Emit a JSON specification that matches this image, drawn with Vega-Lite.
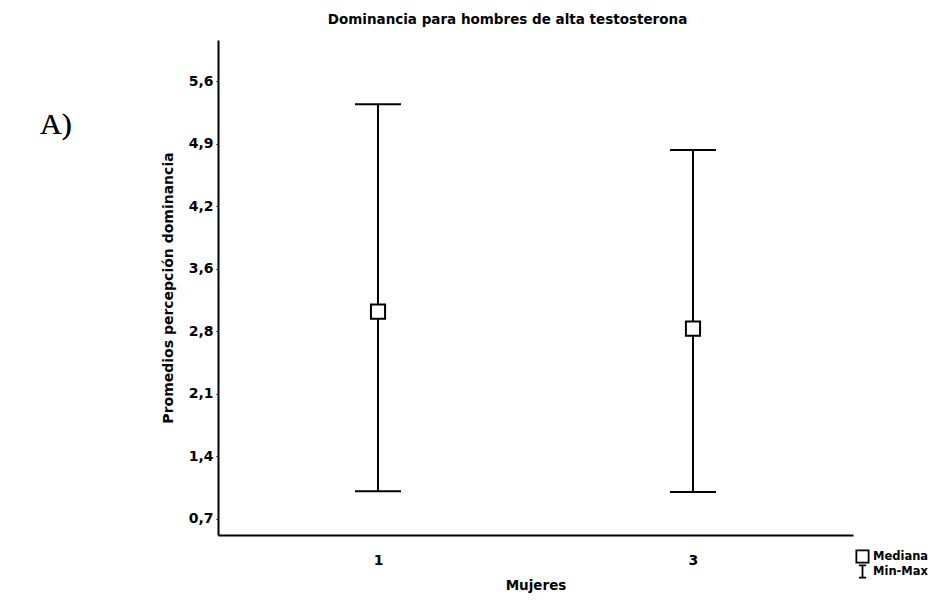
{
  "$schema": "https://vega.github.io/schema/vega-lite/v6.json",
  "autosize": {"type": "none"},
  "padding": {"left": 218, "top": 40, "right": 84, "bottom": 65},
  "width": 635,
  "height": 495,
  "background": "white",
  "title": {
    "text": "Dominancia para hombres de alta testosterona",
    "font": "DejaVu Sans",
    "fontSize": 13.5,
    "fontWeight": "bold",
    "color": "black",
    "anchor": "middle",
    "offset": 14,
    "dx": -28
  },
  "config": {
    "view": {"stroke": null},
    "axis": {"grid": false, "domainColor": "black", "domainWidth": 2, "tickColor": "black", "labelColor": "black", "titleColor": "black"}
  },
  "data": {
    "values": [
      {"mujeres": 1, "min": 1.01, "max": 5.34, "mediana": 3.02, "tipo": "Mediana"},
      {"mujeres": 3, "min": 1.0, "max": 4.83, "mediana": 2.83, "tipo": "Mediana"}
    ]
  },
  "encoding": {
    "x": {
      "field": "mujeres",
      "type": "quantitative",
      "scale": {"domain": [-0.016, 4.016], "nice": false, "zero": false},
      "axis": {
        "values": [1, 3],
        "title": "Mujeres",
        "titleFont": "DejaVu Sans",
        "titleFontSize": 13.5,
        "titleFontWeight": "bold",
        "titlePadding": 11,
        "labelFont": "DejaVu Sans",
        "labelFontSize": 14,
        "labelFontWeight": "bold",
        "labelPadding": 18,
        "ticks": false
      }
    }
  },
  "layer": [
    {
      "mark": {"type": "rule", "color": "black", "strokeWidth": 2},
      "encoding": {
        "y": {
          "field": "min",
          "type": "quantitative",
          "scale": {"domain": [0.52, 6.06], "nice": false, "zero": false},
          "axis": {
            "values": [0.7, 1.4, 2.1, 2.8, 3.5, 4.2, 4.9, 5.6],
            "labelExpr": "datum.value == 3.5 ? '3,6' : replace(format(datum.value, '.1f'), '.', ',')",
            "title": "Promedios percepción dominancia",
            "titleFont": "DejaVu Sans",
            "titleFontSize": 14,
            "titleFontWeight": "bold",
            "titlePadding": 13,
            "labelFont": "DejaVu Sans",
            "labelFontSize": 14,
            "labelFontWeight": "bold",
            "labelPadding": 3,
            "tickSize": 2
          }
        },
        "y2": {"field": "max"}
      }
    },
    {
      "mark": {"type": "tick", "orient": "horizontal", "color": "black", "size": 46, "thickness": 2, "opacity": 1},
      "encoding": {"y": {"field": "min", "type": "quantitative"}}
    },
    {
      "mark": {"type": "tick", "orient": "horizontal", "color": "black", "size": 46, "thickness": 2, "opacity": 1},
      "encoding": {"y": {"field": "max", "type": "quantitative"}}
    },
    {
      "mark": {"type": "square", "filled": true, "color": "white", "size": 200, "opacity": 1},
      "encoding": {"y": {"field": "mediana", "type": "quantitative"}}
    },
    {
      "mark": {"type": "point", "filled": false, "color": "black", "strokeWidth": 2, "size": 200, "opacity": 1},
      "encoding": {
        "y": {"field": "mediana", "type": "quantitative"},
        "shape": {
          "field": "tipo",
          "type": "nominal",
          "scale": {"domain": ["Mediana", "Min-Max"], "range": ["square", "M-0.6,-1H0.6M0,-1V1M-0.6,1H0.6"]},
          "legend": {
            "title": null,
            "orient": "none",
            "legendX": 637,
            "legendY": 509,
            "padding": 0,
            "labelFont": "DejaVu Sans",
            "labelFontSize": 11.5,
            "labelFontWeight": "bold",
            "labelColor": "black",
            "symbolSize": 150,
            "symbolStrokeWidth": 1.8,
            "labelOffset": 3,
            "rowPadding": 0,
            "clipHeight": 15
          }
        }
      }
    },
    {
      "mark": {"type": "text", "font": "Liberation Serif", "fontSize": 30, "fontWeight": "normal", "color": "black", "align": "left", "baseline": "middle", "clip": false},
      "encoding": {
        "x": {"datum": -1.146},
        "y": {"datum": 5.11},
        "text": {"value": "A)"}
      }
    }
  ]
}
